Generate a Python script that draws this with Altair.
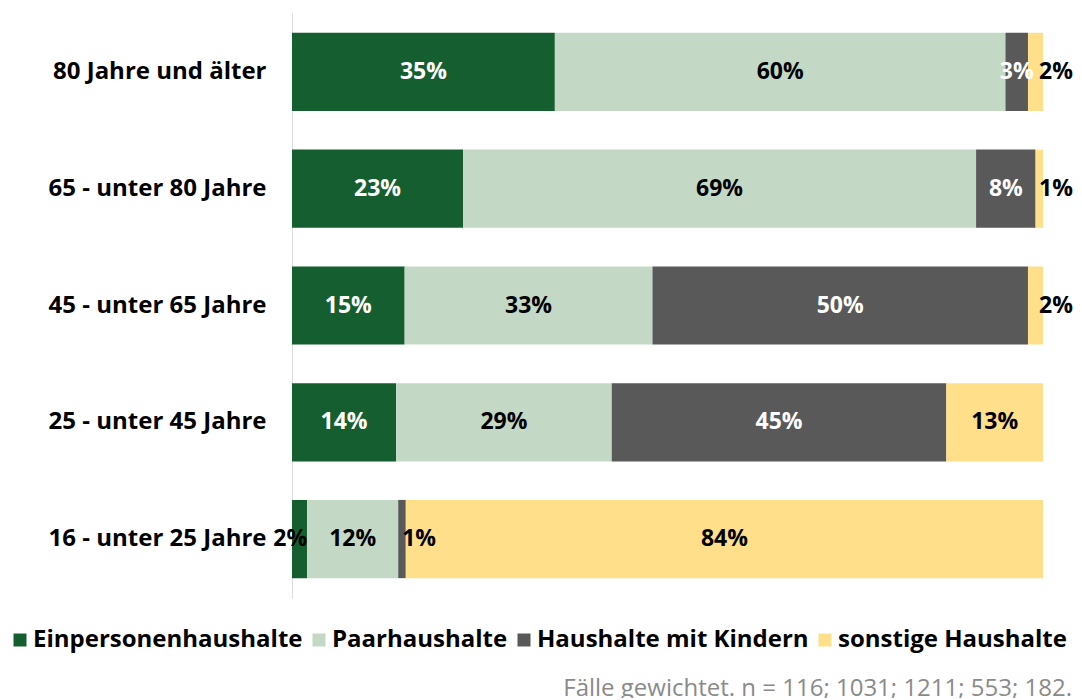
import altair as alt
import pandas as pd

ages = ["80 Jahre und älter", "65 - unter 80 Jahre", "45 - unter 65 Jahre",
        "25 - unter 45 Jahre", "16 - unter 25 Jahre"]
categories = ["Einpersonenhaushalte", "Paarhaushalte", "Haushalte mit Kindern", "sonstige Haushalte"]
colors = ["#155E2F", "#C4D9C5", "#595959", "#FFDF8A"]
text_colors = ["white", "black", "white", "black"]

einpersonen = [35, 23, 15, 14, 2]
paar = [60, 69, 33, 29, 12]
kinder = [3, 8, 50, 45, 1]
sonstige = [2, 1, 2, 13, 84]

footnote = "Fälle gewichtet. n = 116; 1031; 1211; 553; 182."

rows = []
for cat_i, (cat, vals) in enumerate(zip(categories, [einpersonen, paar, kinder, sonstige])):
    for age, v in zip(ages, vals):
        rows.append({"age": age, "cat": cat, "order": cat_i, "value": v,
                     "label": f"{v}%", "tcolor": text_colors[cat_i]})
df = pd.DataFrame(rows)

FONT = "Open Sans"
FS = 23
FS_AX = 24

base = alt.Chart(df).transform_stack(
    stack="value", groupby=["age"], as_=["x0", "x1"], offset="normalize",
    sort=[alt.SortField("order", order="ascending")]
).transform_calculate(
    mid="(datum.x0 + datum.x1) / 2"
)

y_enc = alt.Y("age:N", sort=ages, title=None,
              scale=alt.Scale(paddingInner=0.33, paddingOuter=0.17),
              axis=alt.Axis(labelFont=FONT, labelFontWeight="bold", labelFontSize=FS_AX,
                            labelColor="black", ticks=False, labelPadding=26, labelLimit=400,
                            domainColor="#dddddd", domainWidth=1))

bars = base.mark_bar().encode(
    x=alt.X("x0:Q", scale=alt.Scale(domain=[0, 1]), axis=None),
    x2="x1:Q",
    y=y_enc,
    color=alt.Color("cat:N", sort=categories,
                    scale=alt.Scale(domain=categories, range=colors),
                    legend=alt.Legend(title=None, orient="none", legendX=-284, legendY=615,
                                      direction="horizontal", columns=4, padding=0,
                                      symbolType="square", symbolSize=169,
                                      symbolStrokeWidth=0, labelFont=FONT,
                                      labelFontWeight="bold", labelFontSize=FS_AX,
                                      labelColor="black", labelOffset=1,
                                      columnPadding=4, labelLimit=400)),
)

center = base.transform_filter("datum.value >= 3").mark_text(
    font=FONT, fontWeight="bold", fontSize=FS, align="center", baseline="middle"
).encode(
    x=alt.X("mid:Q", scale=alt.Scale(domain=[0, 1])),
    y=alt.Y("age:N", sort=ages),
    text="label:N",
    color=alt.Color("tcolor:N", scale=None),
)

small_last = base.transform_filter("datum.value < 3 && datum.order == 3").mark_text(
    font=FONT, fontWeight="bold", fontSize=FS, align="left", baseline="middle", dx=-4, color="black"
).encode(
    x=alt.X("x1:Q", scale=alt.Scale(domain=[0, 1])),
    y=alt.Y("age:N", sort=ages),
    text="label:N",
)

small_first = base.transform_filter("datum.value < 3 && datum.order == 0").mark_text(
    font=FONT, fontWeight="bold", fontSize=FS, align="right", baseline="middle", dx=0, color="black"
).encode(
    x=alt.X("x1:Q", scale=alt.Scale(domain=[0, 1])),
    y=alt.Y("age:N", sort=ages),
    text="label:N",
)

small_mid = base.transform_filter("datum.value < 3 && datum.order > 0 && datum.order < 3").mark_text(
    font=FONT, fontWeight="bold", fontSize=FS, align="left", baseline="middle", dx=4, color="black"
).encode(
    x=alt.X("x0:Q", scale=alt.Scale(domain=[0, 1])),
    y=alt.Y("age:N", sort=ages),
    text="label:N",
)

note = alt.Chart(pd.DataFrame({"t": [footnote]})).mark_text(
    font=FONT, fontSize=FS_AX, color="#8a8a8a", align="right", baseline="alphabetic"
).encode(x=alt.value(780), y=alt.value(683), text="t:N")

chart = alt.layer(bars, center, small_last, small_first, small_mid, note).properties(
    width=751, height=585,
    autosize=alt.AutoSizeParams(type="none"),
    padding={"left": 284, "top": 5, "right": 31, "bottom": 100},
).configure_view(stroke=None)

chart.save("out.html", embed_options={"renderer": "svg", "actions": False})
